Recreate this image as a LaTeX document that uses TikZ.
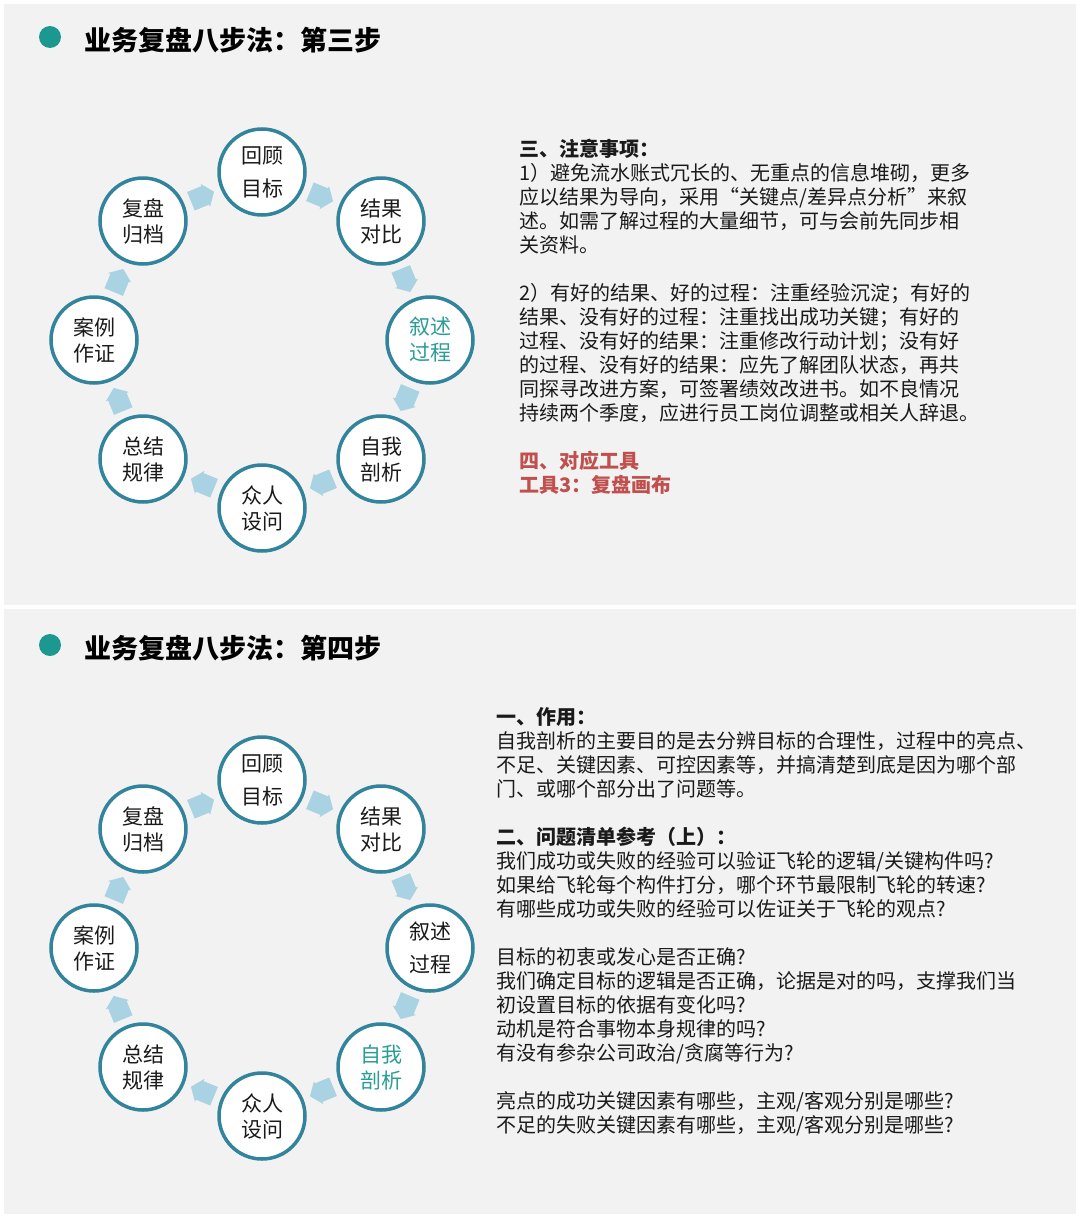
\documentclass[tikz,border=0pt]{standalone}
\usepackage{fontspec}
\setmainfont{Noto Sans CJK SC}
\usetikzlibrary{calc}
\definecolor{panelc}{HTML}{F2F2F2}
\definecolor{ringc}{HTML}{31849B}
\definecolor{arrc}{HTML}{A9D2E2}
\definecolor{tealc}{HTML}{1C9891}
\definecolor{hlc}{HTML}{2A9D96}
\definecolor{txtc}{HTML}{1A1A1A}
\definecolor{redc}{HTML}{C0504D}
\tikzset{
  ringnode/.style={circle, draw=ringc, line width=3.5pt, fill=white, minimum size=86pt, inner sep=0pt, align=center, font=\fontsize{21}{26}\selectfont, text=txtc},
  widels/.style={font=\fontsize{21}{33}\selectfont},
  hl/.style={text=hlc},
  barrow/.style={fill=arrc, draw=none},
  titletext/.style={anchor=west, inner sep=0pt, font=\fontsize{27}{30}\selectfont\bfseries, text=black},
  body/.style={anchor=base west, inner sep=0pt, font=\fontsize{20}{24}\selectfont, text=txtc},
  bodyb/.style={body, font=\fontsize{20}{24}\selectfont\bfseries},
  bodyr/.style={bodyb, text=redc},
}
% block arrow between two named nodes: #1 name, #2 from, #3 to
\newcommand\flowarr[3]{%
  \pgfmathanglebetweenpoints{\pgfpointanchor{#2}{center}}{\pgfpointanchor{#3}{center}}%
  \let\myarrang\pgfmathresult
  \begin{scope}[shift={($(#2.center)!0.5!(#3.center)$)}, rotate=\myarrang]
    \coordinate (#1) at (0,0);
    \fill[barrow] (-12.5,-10) -- (3,-10) -- (3,-12.5) -- (12.5,0) -- (3,12.5) -- (3,10) -- (-12.5,10) -- cycle;
  \end{scope}%
}
\begin{document}
\begin{tikzpicture}[x=1pt,y=-1pt]
\useasboundingbox (0,0) rectangle (1080,1218);
\fill[white] (0,0) rectangle (1080,1218);
\fill[panelc] (4,4) rectangle (1076,605);
\fill[panelc] (4,609) rectangle (1076,1214);

% ---------- top panel ----------
\fill[tealc] (50,37) circle (11);
\node[titletext] (title1) at (84,40) {业务复盘八步法：第三步};

\node[ringnode, widels] (a1) at (262,172) {回顾\\目标};
\node[ringnode] (a2) at (381,221) {结果\\对比};
\node[ringnode, hl] (a3) at (430,340) {叙述\\过程};
\node[ringnode] (a4) at (381,459) {自我\\剖析};
\node[ringnode] (a5) at (262,508) {众人\\设问};
\node[ringnode] (a6) at (143,459) {总结\\规律};
\node[ringnode] (a7) at (94,340) {案例\\作证};
\node[ringnode] (a8) at (143,221) {复盘\\归档};
\flowarr{ar12}{a1}{a2}
\flowarr{ar23}{a2}{a3}
\flowarr{ar34}{a3}{a4}
\flowarr{ar45}{a4}{a5}
\flowarr{ar56}{a5}{a6}
\flowarr{ar67}{a6}{a7}
\flowarr{ar78}{a7}{a8}
\flowarr{ar81}{a8}{a1}

\node[bodyb] (p1) at (519,156.6) {三、注意事项：};
\node[body] (p2) at (519,180.6) {1）避免流水账式冗长的、无重点的信息堆砌，更多};
\node[body] (p3) at (519,204.6) {应以结果为导向，采用“关键点/差异点分析”来叙};
\node[body] (p4) at (519,228.6) {述。如需了解过程的大量细节，可与会前先同步相};
\node[body] (p5) at (519,252.6) {关资料。};
\node[body] (p7) at (519,300.6) {2）有好的结果、好的过程：注重经验沉淀；有好的};
\node[body] (p8) at (519,324.6) {结果、没有好的过程：注重找出成功关键；有好的};
\node[body] (p9) at (519,348.6) {过程、没有好的结果：注重修改行动计划；没有好};
\node[body] (p10) at (519,372.6) {的过程、没有好的结果：应先了解团队状态，再共};
\node[body] (p11) at (519,396.6) {同探寻改进方案，可签署绩效改进书。如不良情况};
\node[body] (p12) at (519,420.6) {持续两个季度，应进行员工岗位调整或相关人辞退。};
\node[bodyr] (p14) at (519,468.6) {四、对应工具};
\node[bodyr] (p15) at (519,492.6) {工具3：复盘画布};

% ---------- bottom panel ----------
\fill[tealc] (50,645) circle (11);
\node[titletext] (title2) at (84,648) {业务复盘八步法：第四步};

\node[ringnode, widels] (b1) at (262,780) {回顾\\目标};
\node[ringnode] (b2) at (381,829) {结果\\对比};
\node[ringnode, widels] (b3) at (430,948) {叙述\\过程};
\node[ringnode, hl] (b4) at (381,1067) {自我\\剖析};
\node[ringnode] (b5) at (262,1116) {众人\\设问};
\node[ringnode] (b6) at (143,1067) {总结\\规律};
\node[ringnode] (b7) at (94,948) {案例\\作证};
\node[ringnode] (b8) at (143,829) {复盘\\归档};
\flowarr{br12}{b1}{b2}
\flowarr{br23}{b2}{b3}
\flowarr{br34}{b3}{b4}
\flowarr{br45}{b4}{b5}
\flowarr{br56}{b5}{b6}
\flowarr{br67}{b6}{b7}
\flowarr{br78}{b7}{b8}
\flowarr{br81}{b8}{b1}

\node[bodyb] (q1) at (496,724.6) {一、作用：};
\node[body] (q2) at (496,748.6) {自我剖析的主要目的是去分辨目标的合理性，过程中的亮点、};
\node[body] (q3) at (496,772.6) {不足、关键因素、可控因素等，并搞清楚到底是因为哪个部};
\node[body] (q4) at (496,796.6) {门、或哪个部分出了问题等。};
\node[bodyb] (q6) at (496,844.6) {二、问题清单参考（上）：};
\node[body] (q7) at (496,868.6) {我们成功或失败的经验可以验证飞轮的逻辑/关键构件吗?};
\node[body] (q8) at (496,892.6) {如果给飞轮每个构件打分，哪个环节最限制飞轮的转速?};
\node[body] (q9) at (496,916.6) {有哪些成功或失败的经验可以佐证关于飞轮的观点?};
\node[body] (q11) at (496,964.6) {目标的初衷或发心是否正确?};
\node[body] (q12) at (496,988.6) {我们确定目标的逻辑是否正确，论据是对的吗，支撑我们当};
\node[body] (q13) at (496,1012.6) {初设置目标的依据有变化吗?};
\node[body] (q14) at (496,1036.6) {动机是符合事物本身规律的吗?};
\node[body] (q15) at (496,1060.6) {有没有参杂公司政治/贪腐等行为?};
\node[body] (q17) at (496,1108.6) {亮点的成功关键因素有哪些，主观/客观分别是哪些?};
\node[body] (q18) at (496,1132.6) {不足的失败关键因素有哪些，主观/客观分别是哪些?};
\end{tikzpicture}
\end{document}
